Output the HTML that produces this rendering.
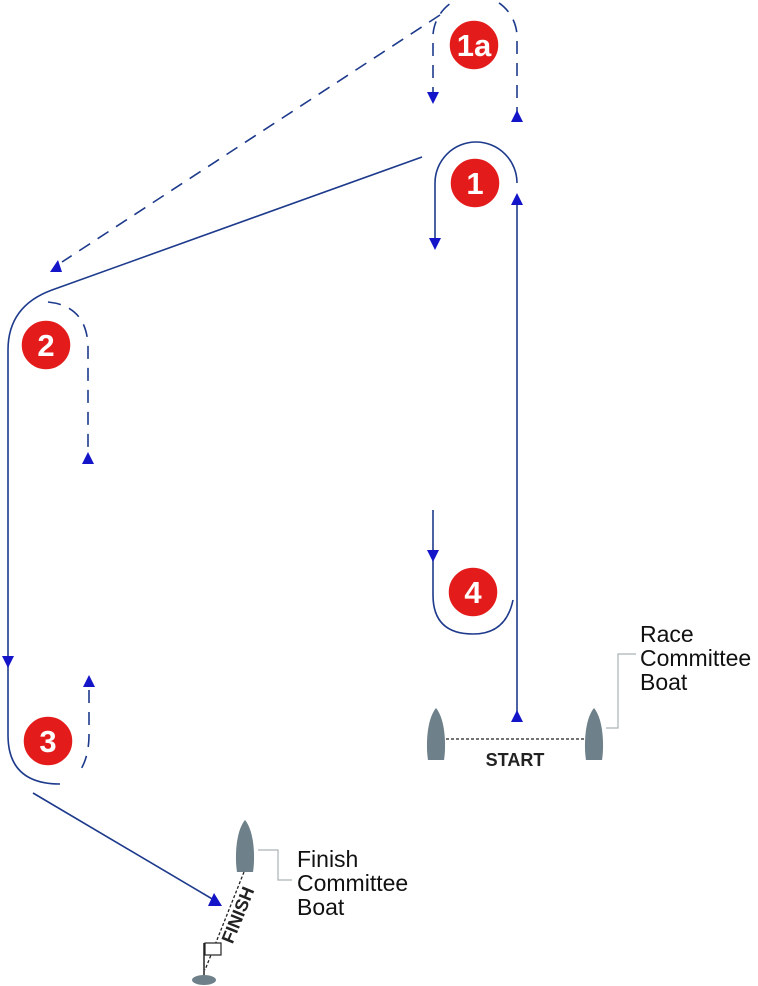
<!DOCTYPE html>
<html><head><meta charset="utf-8"><style>
html,body{margin:0;padding:0;background:#fff}
svg{display:block}
text{font-family:"Liberation Sans",sans-serif}
</style></head><body>
<svg width="758" height="986" viewBox="0 0 758 986" xmlns="http://www.w3.org/2000/svg">
<defs>
<path id="boat" d="M0,-26 C10,-14 10,14 8,26 L-8,26 C-10,14 -10,-14 0,-26 Z" fill="#6e8089"/>
</defs>
<g fill="none" stroke="#1d3a8c" stroke-width="1.6">
<line x1="517" y1="712" x2="517" y2="200"/>
<path d="M517,183 A41,41 0 0 0 435,183 L435,240"/>
<path d="M422,157 L52,290 Q8,306 8,350 L8,735 Q8,784 60,784"/>
<line x1="33" y1="793" x2="214" y2="900"/>
<path d="M433,510 L433,595 Q433,634 473,634 Q506,634 513,600"/>
</g>
<g fill="none" stroke="#1d3a8c" stroke-width="1.6" stroke-dasharray="13,9">
<path d="M433,100 L433,40 A42,42 0 0 1 517,35 L517,112"/>
<line x1="440" y1="15" x2="62" y2="262"/>
<path d="M48,302 Q86,306 88,345 L88,452"/>
<path d="M89,690 L89,735 Q89,760 77,775"/>
</g>
<g fill="#1414c8">
<polygon points="517,193 511,205 523,205"/>
<polygon points="517,710 511,722 523,722"/>
<polygon points="435,250 429,238 441,238"/>
<polygon points="433,104 427,92 439,92"/>
<polygon points="517,110 511,122 523,122"/>
<polygon points="50,272 62,272 58,260"/>
<polygon points="88,452 82,464 94,464"/>
<polygon points="89,675 83,687 95,687"/>
<polygon points="8,668 2,656 14,656"/>
<polygon points="433,562 427,550 439,550"/>
<polygon points="222,906 208,906 214,893"/>
</g>
<g fill="#e31b1b" stroke="#fff" stroke-width="1.5">
<circle cx="474" cy="45" r="25"/>
<circle cx="475" cy="183" r="25"/>
<circle cx="46" cy="345" r="25"/>
<circle cx="48" cy="741" r="25"/>
<circle cx="473" cy="592" r="25"/>
</g>
<g fill="#fff" font-weight="bold" font-size="31" text-anchor="middle">
<text x="474" y="56">1a</text>
<text x="475" y="194">1</text>
<text x="46" y="356">2</text>
<text x="48" y="752">3</text>
<text x="473" y="603">4</text>
</g>
<use href="#boat" x="436" y="734"/>
<use href="#boat" x="594" y="734"/>
<line x1="446" y1="739" x2="584" y2="739" stroke="#222" stroke-width="1.3" stroke-dasharray="3,2"/>
<text x="515" y="766" font-size="18" text-anchor="middle" fill="#222" font-family="Liberation Mono, monospace" font-weight="bold">START</text>
<polyline points="606,728 618,728 618,654 636,654" fill="none" stroke="#aab3b8" stroke-width="1.2"/>
<g font-size="23" fill="#111"><text x="640" y="642">Race</text><text x="640" y="666">Committee</text><text x="640" y="690">Boat</text></g>
<use href="#boat" x="245" y="846"/>
<line x1="244" y1="872" x2="205" y2="970" stroke="#222" stroke-width="1.3" stroke-dasharray="3,2"/>
<text x="238" y="915" font-size="18" font-weight="bold" fill="#222" text-anchor="middle" font-family="Liberation Mono, monospace" transform="rotate(-68 238 915)" dy="6">FINISH</text>
<line x1="204" y1="943" x2="204" y2="978" stroke="#222" stroke-width="1.5"/>
<rect x="205" y="943" width="16" height="12" fill="#fff" stroke="#222" stroke-width="1.2"/>
<ellipse cx="204" cy="980" rx="12" ry="5" fill="#6e8089"/>
<polyline points="258,850 278,850 278,880 292,880" fill="none" stroke="#aab3b8" stroke-width="1.2"/>
<g font-size="23" fill="#111"><text x="297" y="867">Finish</text><text x="297" y="891">Committee</text><text x="297" y="915">Boat</text></g>
</svg>
</body></html>
